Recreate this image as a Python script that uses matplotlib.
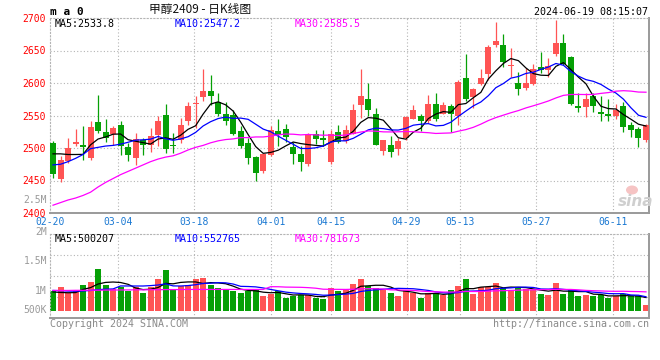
import numpy as np
import pandas as pd
import matplotlib
matplotlib.use("Agg")
import matplotlib.pyplot as plt
from matplotlib.patches import Ellipse

W, H = 660, 360

# ---- daily K-line data (80 sessions) ----
opens = [2507, 2453, 2480, 2506, 2504, 2485, 2540, 2525, 2521, 2536,
         2502, 2485, 2512, 2505, 2520, 2550, 2504, 2513, 2541, 2567,
         2578, 2588, 2571, 2553, 2550, 2526, 2507, 2486, 2464, 2489,
         2526, 2529, 2501, 2491, 2476, 2522, 2516, 2478, 2524, 2511,
         2522, 2566, 2576, 2553, 2495, 2505, 2498, 2515, 2545, 2549,
         2541, 2568, 2553, 2565, 2549, 2607, 2578, 2599, 2614, 2658,
         2659, 2626, 2600, 2593, 2599, 2624, 2620, 2645, 2661, 2640,
         2565, 2563, 2580, 2556, 2552, 2549, 2564, 2536, 2529, 2513]
highs = [2511, 2488, 2515, 2530, 2534, 2542, 2581, 2544, 2534, 2542,
         2508, 2523, 2516, 2531, 2550, 2568, 2523, 2546, 2571, 2580,
         2621, 2613, 2584, 2571, 2559, 2534, 2516, 2488, 2491, 2534,
         2545, 2537, 2510, 2503, 2523, 2528, 2528, 2527, 2536, 2535,
         2567, 2621, 2600, 2562, 2513, 2518, 2515, 2549, 2566, 2552,
         2581, 2585, 2571, 2568, 2604, 2644, 2592, 2621, 2658, 2694,
         2676, 2654, 2617, 2623, 2629, 2648, 2638, 2697, 2675, 2641,
         2585, 2584, 2585, 2580, 2575, 2568, 2571, 2540, 2532, 2537]
lows = [2454, 2447, 2477, 2503, 2482, 2482, 2523, 2510, 2505, 2490,
        2480, 2474, 2490, 2494, 2503, 2493, 2493, 2508, 2536, 2531,
        2573, 2566, 2550, 2535, 2520, 2500, 2476, 2449, 2461, 2487,
        2503, 2510, 2476, 2465, 2472, 2506, 2503, 2476, 2507, 2508,
        2521, 2546, 2550, 2504, 2490, 2486, 2490, 2512, 2544, 2526,
        2539, 2542, 2552, 2524, 2535, 2573, 2562, 2597, 2605, 2656,
        2624, 2610, 2581, 2589, 2597, 2616, 2609, 2641, 2628, 2566,
        2555, 2547, 2556, 2542, 2541, 2544, 2524, 2517, 2501, 2509]
closes = [2460, 2481, 2500, 2509, 2501, 2533, 2526, 2516, 2530, 2503,
          2489, 2514, 2505, 2519, 2542, 2498, 2503, 2536, 2565, 2569,
          2588, 2580, 2553, 2542, 2521, 2503, 2484, 2461, 2490, 2528,
          2520, 2517, 2491, 2478, 2520, 2514, 2512, 2521, 2510, 2527,
          2559, 2580, 2558, 2505, 2512, 2494, 2510, 2547, 2559, 2542,
          2568, 2545, 2566, 2553, 2602, 2576, 2590, 2607, 2656, 2665,
          2632, 2628, 2591, 2600, 2621, 2620, 2626, 2661, 2629, 2567,
          2562, 2575, 2564, 2553, 2549, 2559, 2532, 2528, 2515, 2535]
volumes = [790000, 936000, 699000, 762000, 1015000, 1146000, 1647000, 1015000, 841000, 920000,
           790000, 920000, 699000, 920000, 1252000, 1608000, 830000, 976000, 1015000, 1252000,
           1292000, 1015000, 909000, 857000, 778000, 699000, 762000, 830000, 593000, 660000,
           762000, 502000, 581000, 632000, 620000, 486000, 446000, 897000, 790000, 830000,
           1055000, 1252000, 988000, 897000, 830000, 699000, 593000, 830000, 699000, 514000,
           699000, 683000, 632000, 818000, 976000, 1252000, 672000, 936000, 920000, 1094000,
           897000, 818000, 897000, 857000, 830000, 660000, 620000, 1094000, 660000, 818000,
           581000, 620000, 581000, 620000, 514000, 593000, 660000, 565000, 565000, 215000]

ma5_head = [2491, 2491, 2490, 2490]
ma10_head = [2474, 2475, 2479, 2484, 2490, 2499, 2501, 2503, 2504]
ma30_head = [2412, 2416, 2420, 2423, 2427, 2432, 2440, 2447, 2453, 2459,
             2464, 2469, 2474, 2479, 2483, 2486, 2488, 2492, 2497, 2501,
             2504, 2508, 2511, 2513, 2514, 2516, 2516, 2517, 2517]
vma5_head = [740000, 720000, 710000, 715000]
vma10_head = [800000, 790000, 775000, 770000, 780000, 800000, 830000, 850000, 860000]
vma30_head = [800000, 800000, 800000, 805000, 805000, 810000, 810000, 815000, 815000, 820000,
              820000, 825000, 825000, 830000, 830000, 835000, 835000, 835000, 840000, 840000,
              840000, 840000, 840000, 840000, 840000, 840000, 840000, 840000, 840000]

# legend texts exactly as printed on the chart
price_ma_text = ["MA5:2533.8", "MA10:2547.2", "MA30:2585.5"]
vol_ma_text = ["MA5:500207", "MA10:552765", "MA30:781673"]

date_labels = ["02-20", "03-04", "03-18", "04-01", "04-15", "04-29", "05-13", "05-27", "06-11"]
date_pos = [-0.4, 8.7, 18.8, 29.0, 37.1, 47.1, 54.2, 64.4, 74.6]
price_ticks = [2400, 2450, 2500, 2550, 2600, 2650, 2700]
vol_labels = ["2.5M", "2M", "1.5M", "1M", "500K"]
vol_label_y = [200, 232, 261, 291, 310]   # pixel rows where sina prints them

RED, GREEN = "#ff5454", "#06a006"
MA_COLORS = ["black", "#0000ff", "#ff00ff"]
GRID = "#b4b4b4"
MONO = "DejaVu Sans Mono"


def moving_average(values, n, head):
    ma = pd.Series(values, dtype=float).rolling(n).mean().to_numpy()
    ma[:len(head)] = head
    return ma


def ftext(x, y, s, **kw):
    """Text placed by pixel position (x from left, y from top)."""
    kw.setdefault("family", MONO)
    kw.setdefault("fontsize", 7.2)
    fig.text(x / W, 1 - y / H, s, va="center", **kw)


o = np.array(opens, float)
c = np.array(closes, float)
x = np.arange(len(o))
cols = np.where(c >= o, RED, GREEN)

fig = plt.figure(figsize=(W / 100, H / 100), dpi=100)
ax = fig.add_axes([50 / W, 1 - 213 / H, 599 / W, 195 / H])
axv = fig.add_axes([50 / W, 1 - 317.5 / H, 599 / W, 83.5 / H])

for a in (ax, axv):
    a.set_xlim(-0.4, 79.4)
    for side in ("top", "left"):
        a.spines[side].set_linestyle((0, (1, 2)))
        a.spines[side].set_color(GRID)
        a.spines[side].set_linewidth(0.8)
    for side in ("right", "bottom"):
        a.spines[side].set_color("#9a9a9a")
        a.spines[side].set_linewidth(1.4)
    for p in date_pos[1:]:
        a.axvline(p, color=GRID, lw=0.8, ls=(0, (1, 2)), zorder=0)
    a.tick_params(length=0)

# ---- price panel ----
ax.set_ylim(2400, 2700)
for t in price_ticks[1:-1]:
    ax.axhline(t, color=GRID, lw=0.8, ls=(0, (1, 2)), zorder=0)
ax.vlines(x, lows, highs, colors=cols, linewidth=0.9, zorder=2)
body = np.maximum(np.abs(c - o), 1.3)
ax.bar(x, body, bottom=np.minimum(o, c), width=0.8, color=cols, linewidth=0, zorder=3)

for n, head, col in zip((5, 10, 30), (ma5_head, ma10_head, ma30_head), MA_COLORS):
    ax.plot(x, moving_average(closes, n, head), color=col, lw=0.9, zorder=4)

ax.set_yticks(price_ticks)
ax.set_yticklabels([str(t) for t in price_ticks], color="#ff0000", family=MONO, fontsize=7)
ax.tick_params(axis="y", pad=3)
ax.set_xticks(date_pos)
ax.set_xticklabels(date_labels, color="#1a78d2", family=MONO, fontsize=7)
ax.tick_params(axis="x", pad=3)

# ---- volume panel ----
px = 39500.0                       # lots per pixel in the volume strip
lo, hi = -6.8 * px, (83.5 - 6.8) * px
axv.set_ylim(lo, hi)
for f in (0.25, 0.5, 0.75):
    axv.axhline(lo + f * (hi - lo), color=GRID, lw=0.8, ls=(0, (1, 2)), zorder=0)
axv.bar(x, volumes, width=0.8, color=cols, linewidth=0, zorder=2)
for n, head, col in zip((5, 10, 30), (vma5_head, vma10_head, vma30_head), MA_COLORS):
    axv.plot(x, moving_average(volumes, n, head), color=col, lw=0.9, zorder=4)
axv.set_xticks([])
axv.set_yticks([])

for lab, yy in zip(vol_labels, vol_label_y):
    ftext(47, yy, lab, color="#9a9a9a", ha="right", fontsize=7)

# ---- header / legends / footer ----
ftext(50, 12, "m a 0", color="black", fontweight="bold", fontsize=8)
fig.text(200 / W, 1 - 10 / H, "甲醇2409 - 日K线图", ha="center", va="center",
         family=["Noto Sans CJK SC", "DejaVu Sans"], fontsize=8.5, color="#111111")
ftext(648, 12, "2024-06-19 08:15:07", color="black", ha="right")

for xx, s, col in zip((55, 175, 295), price_ma_text, MA_COLORS):
    ftext(xx, 24, s, color=col)
for xx, s, col in zip((55, 175, 295), vol_ma_text, MA_COLORS):
    ftext(xx, 238.5, s, color=col)

ftext(50, 324, "Copyright 2024 SINA.COM", color="#8a8a8a")
ftext(649, 324, "http://finance.sina.com.cn", color="#8a8a8a", ha="right")

# faint sina watermark
fig.patches.append(Ellipse((632 / W, 1 - 190 / H), 12 / W, 9 / H, transform=fig.transFigure,
                           facecolor="#f6c4c4", edgecolor="none"))
ftext(636, 201, "sina", color="#cfcfcf", ha="center", fontsize=11, fontstyle="italic",
      fontweight="bold", family="DejaVu Sans")

fig.savefig("out.png", dpi=100)
